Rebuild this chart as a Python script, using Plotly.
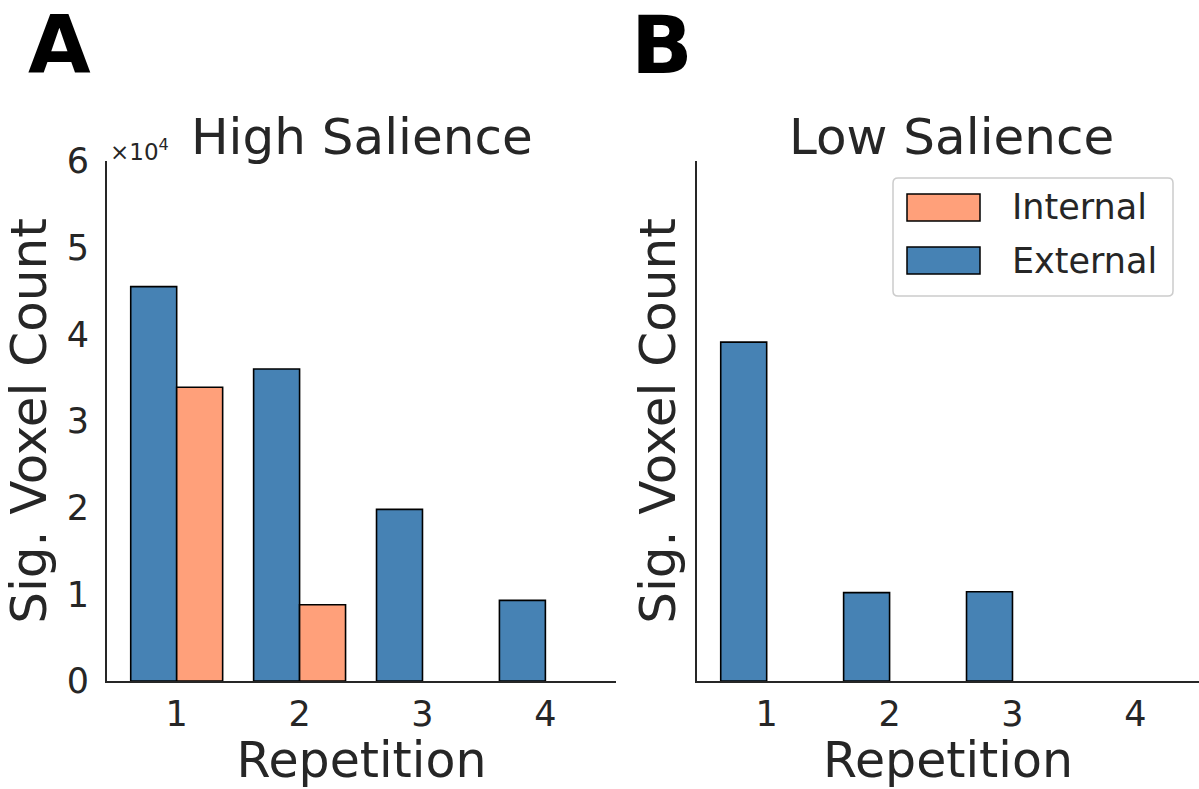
import plotly.graph_objects as go

# ---- data ----
repetitions = ["1", "2", "3", "4"]
high_external = [45500, 36000, 19800, 9300]
high_internal = [33900, 8800, 0, 0]
low_external = [39100, 10200, 10300, 0]
low_internal = [0, 0, 0, 0]
y_tickvals = [0, 10000, 20000, 30000, 40000, 50000, 60000]
y_ticktext = ["0", "1", "2", "3", "4", "5", "6"]
series_names = ["Internal", "External"]

W, H = 1199, 789


def px(x):
    return x / W


def py(y):
    return 1 - y / H


def nz(vals):
    # zero-height bars are not drawn in the reference
    return [v if v != 0 else None for v in vals]


EXT = "#4682B4"
INT = "#FFA07A"
TXT = "#262626"
FONT = "DejaVu Sans"
TITLE = 50
AXT = 49
YT = 50
TICK = 35

fig = go.Figure()
for xa, ya, ext, inn in [("x", "y", high_external, high_internal),
                         ("x2", "y2", low_external, low_internal)]:
    fig.add_trace(go.Bar(x=repetitions, y=nz(ext), name="External",
                         marker=dict(color=EXT, line=dict(color="black", width=1.6)),
                         xaxis=xa, yaxis=ya, showlegend=False))
    fig.add_trace(go.Bar(x=repetitions, y=nz(inn), name="Internal",
                         marker=dict(color=INT, line=dict(color="black", width=1.6)),
                         xaxis=xa, yaxis=ya, showlegend=False))

x_left = [px(107), px(616)]
x_right = [px(697), 1.0]
y_dom = [py(681), py(161)]
unit = 122.9
xr_left = [-0.567, -0.567 + (616 - 107) / unit]
xr_right = [-0.567, -0.567 + (1199 - 697) / unit]

axis_common = dict(showline=True, linecolor=TXT, linewidth=2, ticks="",
                   showgrid=False, zeroline=False, automargin=False,
                   tickfont=dict(family=FONT, size=TICK, color=TXT))

fig.update_layout(
    width=W, height=H,
    margin=dict(l=0, r=0, t=0, b=0, autoexpand=False),
    paper_bgcolor="white", plot_bgcolor="white",
    barmode="group", bargap=0.252, bargroupgap=0,
    font=dict(family=FONT, color=TXT),
    xaxis=dict(domain=x_left, range=xr_left, anchor="y",
               title=dict(text="Repetition", font=dict(size=AXT, color=TXT), standoff=25),
               ticklabelstandoff=1, **axis_common),
    xaxis2=dict(domain=x_right, range=xr_right, anchor="y2",
                title=dict(text="Repetition", font=dict(size=AXT, color=TXT), standoff=25),
                ticklabelstandoff=1, **axis_common),
    yaxis=dict(domain=y_dom, range=[0, 60000], anchor="x",
               tickvals=y_tickvals, ticktext=y_ticktext, ticklabelstandoff=9,
               title=dict(text="Sig. Voxel Count", font=dict(size=YT, color=TXT), standoff=8),
               **axis_common),
    yaxis2=dict(domain=y_dom, range=[0, 60000], anchor="x2", matches="y",
                tickvals=y_tickvals, showticklabels=False,
                title=dict(text="Sig. Voxel Count", font=dict(size=YT, color=TXT), standoff=4),
                **axis_common),
)

annotations = [
    dict(text="High Salience", x=px(361.5), y=py(137), xref="paper", yref="paper",
         xanchor="center", yanchor="middle", showarrow=False,
         font=dict(family=FONT, size=TITLE, color=TXT)),
    dict(text="Low Salience", x=px(951.5), y=py(137), xref="paper", yref="paper",
         xanchor="center", yanchor="middle", showarrow=False,
         font=dict(family=FONT, size=TITLE, color=TXT)),
    dict(text="<b>A</b>", x=px(59), y=py(45), xref="paper", yref="paper",
         xanchor="center", yanchor="middle", showarrow=False, height=66,
         font=dict(family=FONT, size=81, color="black")),
    dict(text="<b>B</b>", x=px(662), y=py(45), xref="paper", yref="paper",
         xanchor="center", yanchor="middle", showarrow=False, height=66,
         font=dict(family=FONT, size=81, color="black")),
    dict(text="×10<sup>4</sup>", x=px(108), y=py(150), xref="paper", yref="paper",
         xanchor="left", yanchor="middle", showarrow=False,
         font=dict(family=FONT, size=23, color=TXT)),
]

# ---- manual legend (matplotlib style) ----
r = 5
x0, x1, y0, y1 = px(893), px(1173), py(178), py(296)
rx, ry = r / W, r / H
path = (f"M {x0+rx},{y0} L {x1-rx},{y0} Q {x1},{y0} {x1},{y0-ry} "
        f"L {x1},{y1+ry} Q {x1},{y1} {x1-rx},{y1} L {x0+rx},{y1} "
        f"Q {x0},{y1} {x0},{y1+ry} L {x0},{y0-ry} Q {x0},{y0} {x0+rx},{y0} Z")
shapes = [dict(type="path", path=path, xref="paper", yref="paper",
               line=dict(color="#cccccc", width=1.5), fillcolor="rgba(255,255,255,0.8)")]
legend_colors = {"Internal": INT, "External": EXT}
for i, name in enumerate(series_names):
    top = 194 + i * 53
    shapes.append(dict(type="rect", xref="paper", yref="paper",
                       x0=px(907), x1=px(980), y0=py(top), y1=py(top + 27),
                       fillcolor=legend_colors[name], line=dict(color="black", width=1.5)))
    annotations.append(dict(text=name, x=px(1010), y=py(top + 13.5), xref="paper", yref="paper",
                            xanchor="left", yanchor="middle", showarrow=False,
                            font=dict(family=FONT, size=TICK, color=TXT)))

fig.update_layout(annotations=annotations, shapes=shapes)
fig.write_html("out.html")
